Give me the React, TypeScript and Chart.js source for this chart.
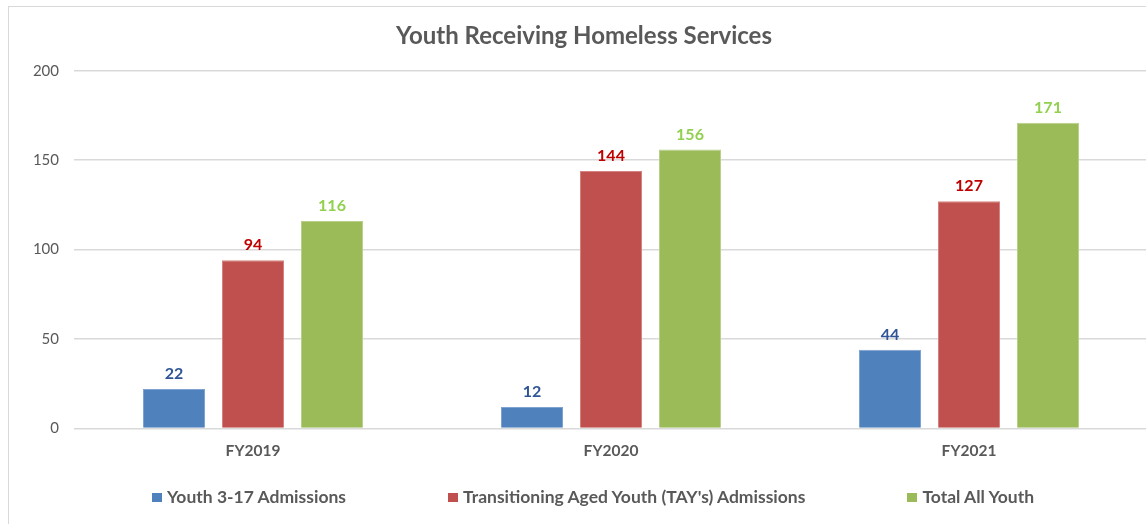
import React, { useEffect, useRef } from "react";
import { Chart, registerables } from "chart.js";

Chart.register(...registerables);

const chartTitle = "Youth Receiving Homeless Services";
const categories = ["FY2019", "FY2020", "FY2021"];
const seriesNames = [
  "Youth 3-17 Admissions",
  "Transitioning Aged Youth (TAY's) Admissions",
  "Total All Youth",
];
const youthAdmissions = [22, 12, 44];
const tayAdmissions = [94, 144, 127];
const totalAllYouth = [116, 156, 171];
const seriesValues = [youthAdmissions, tayAdmissions, totalAllYouth];
const barColors = ["#4F81BD", "#C0504D", "#9BBB59"];
const barBorderColors = ["#7FA3D1", "#D48482", "#B9D08A"];
const labelColors = ["#2F5597", "#C00000", "#92D050"];
const yMin = 0;
const yMax = 200;
const yStep = 50;

const FONT = "Lato, 'Open Sans', sans-serif";
const TEXT_GRAY = "#595959";

const valueLabelPlugin = {
  id: "valueLabels",
  afterDatasetsDraw(chart: any) {
    const ctx = chart.ctx;
    ctx.save();
    ctx.font = `bold 16px ${FONT}`;
    ctx.textAlign = "center";
    ctx.textBaseline = "middle";
    chart.data.datasets.forEach((ds: any, di: number) => {
      const meta = chart.getDatasetMeta(di);
      ctx.fillStyle = labelColors[di];
      meta.data.forEach((bar: any, i: number) => {
        ctx.fillText(String(ds.data[i]), bar.x, bar.y - 15);
      });
    });
    ctx.restore();
  },
};

export default function App() {
  const canvasRef = useRef<HTMLCanvasElement | null>(null);

  useEffect(() => {
    if (!canvasRef.current) return;
    const chart = new Chart(canvasRef.current, {
      type: "bar",
      data: {
        labels: categories,
        datasets: seriesNames.map((name, i) => ({
          label: name,
          data: seriesValues[i],
          backgroundColor: barColors[i],
          borderColor: barBorderColors[i],
          borderWidth: 1,
          barPercentage: 0.785,
          categoryPercentage: 0.662,
        })),
      },
      options: {
        responsive: false,
        animation: false,
        devicePixelRatio: 1,
        layout: { padding: { left: 20, right: 2, top: 0, bottom: 51 } },
        plugins: {
          legend: { display: false },
          tooltip: { enabled: false },
          title: {
            display: true,
            text: chartTitle,
            color: TEXT_GRAY,
            font: { family: FONT, size: 24, weight: "bold" },
            padding: { top: 22, bottom: 20 },
          },
        },
        scales: {
          x: {
            grid: { display: false, drawTicks: false },
            border: { display: false },
            ticks: {
              color: TEXT_GRAY,
              font: { family: FONT, size: 15.5, weight: "bold" },
              padding: 13,
            },
          },
          y: {
            min: yMin,
            max: yMax,
            grid: { color: "#D9D9D9", lineWidth: 1.5, drawTicks: false },
            border: { display: false },
            ticks: {
              stepSize: yStep,
              color: TEXT_GRAY,
              font: { family: FONT, size: 15 },
              padding: 15,
            },
            afterFit: (scale: any) => {
              scale.width = 54;
            },
          },
        },
      },
      plugins: [valueLabelPlugin],
    });
    return () => chart.destroy();
  }, []);

  return (
    <div
      style={{
        position: "absolute",
        left: 0,
        top: 0,
        width: 1146,
        height: 524,
        overflow: "hidden",
        background: "#fff",
      }}
    >
      <div
        style={{
          position: "absolute",
          left: 8,
          top: 6,
          width: 1300,
          height: 700,
          border: "1px solid #D9D9D9",
          boxSizing: "border-box",
        }}
      />
      <canvas
        ref={canvasRef}
        width={1150}
        height={524}
        style={{ position: "absolute", left: 0, top: 0, width: 1150, height: 524 }}
      />
      <div
        style={{
          position: "absolute",
          left: 152,
          top: 487,
          display: "flex",
          alignItems: "center",
          fontFamily: FONT,
          fontWeight: "bold",
          fontSize: 17.5,
          color: TEXT_GRAY,
          lineHeight: "20px",
          whiteSpace: "nowrap",
        }}
      >
        {seriesNames.map((name, i) => (
          <div
            key={name}
            style={{
              display: "flex",
              alignItems: "center",
              marginRight: 102,
            }}
          >
            <span
              style={{
                display: "inline-block",
                width: 10,
                height: 9,
                background: barColors[i],
                marginRight: 5,
              }}
            />
            <span>{name}</span>
          </div>
        ))}
      </div>
    </div>
  );
}
